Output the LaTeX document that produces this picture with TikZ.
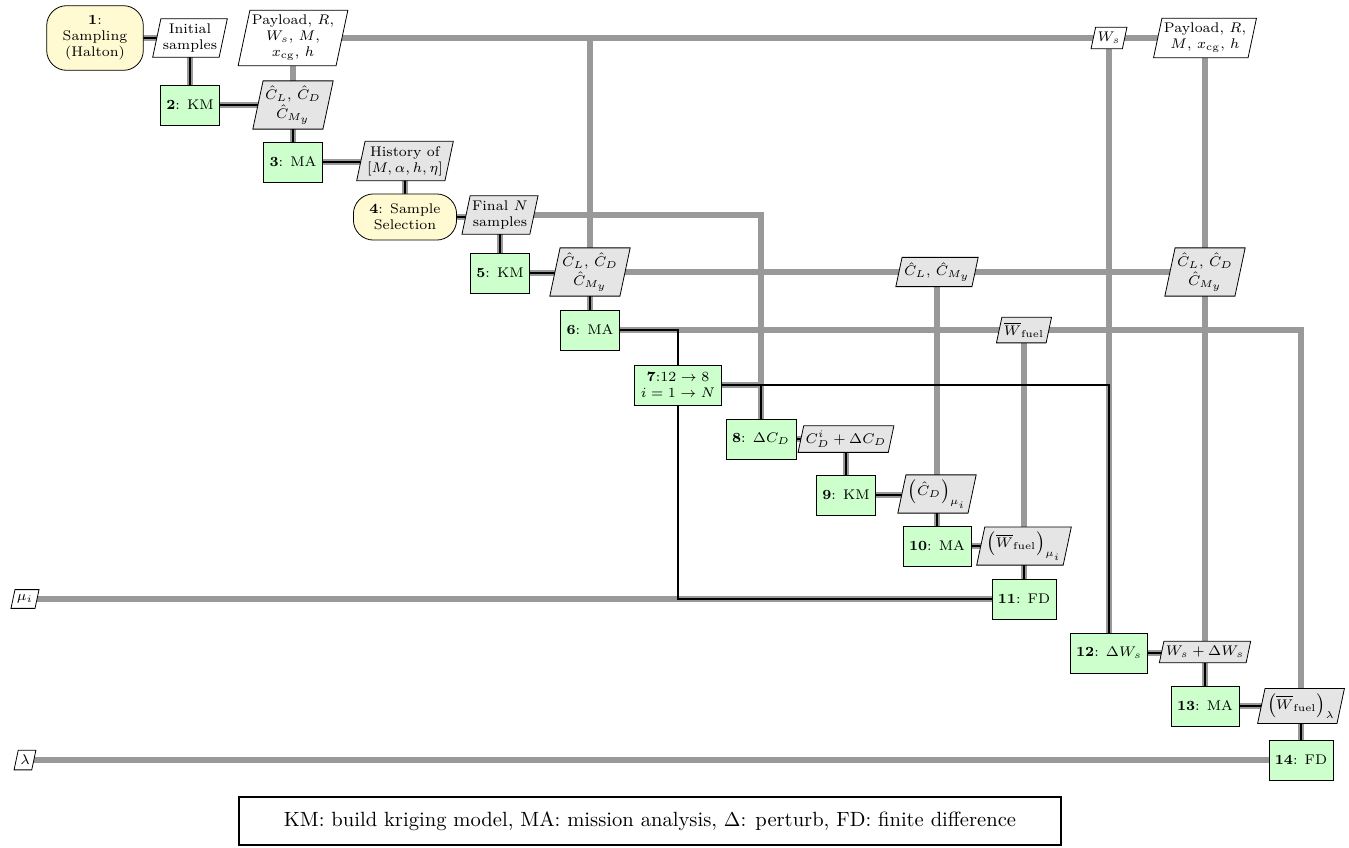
\documentclass[tikz,border=0pt]{standalone}
\usetikzlibrary{shapes.geometric}

\definecolor{FuncGreen}{rgb}{0.8,1,0.8}
\definecolor{DriverYellow}{rgb}{1,0.98,0.82}
\definecolor{DataGray}{rgb}{0.9,0.9,0.9}
\definecolor{LineGray}{rgb}{0.6,0.6,0.6}

\pgfdeclarelayer{bg}
\pgfsetlayers{bg,main}

\begin{document}
\begin{tikzpicture}[x=0.5pt,y=-0.5pt,
    func/.style={draw,fill=FuncGreen,font=\scriptsize,align=center,minimum height=20pt,inner xsep=3pt,inner ysep=3.5pt},
    driver/.style={draw,fill=DriverYellow,font=\scriptsize,align=center,rounded corners=10pt,inner xsep=8pt,inner ysep=5pt},
    dat/.style={draw,fill=DataGray,font=\scriptsize,align=center,trapezium,trapezium left angle=78,trapezium right angle=102,inner xsep=1pt,inner ysep=2.5pt},
    inp/.style={dat,fill=white},
    dataline/.style={LineGray,line width=3.3pt},
    procline/.style={black,line width=0.8pt}]
  \useasboundingbox (0,0) rectangle (1349,847);

  \node (f1) [driver] at (95,38) {\textbf{1}:\\Sampling\\(Halton)};
  \node (is) [inp] at (190,38) {Initial\\samples};
  \node (pay) [inp] at (293,38) {Payload, $R$,\\$W_s$, $M$,\\$x_{\mathrm{cg}}$, $h$};
  \node (ws) [inp] at (1109,38) {$W_s$};
  \node (payb) [inp] at (1205,38) {Payload, $R$,\\$M$, $x_{\mathrm{cg}}$, $h$};
  \node (f2) [func] at (190,105) {\textbf{2}: KM};
  \node (coef2) [dat] at (293,105) {$\hat{C}_L$, $\hat{C}_D$\\[1.5pt]$\hat{C}_{M_y}$};
  \node (f3) [func] at (293,162) {\textbf{3}: MA};
  \node (hist) [dat] at (405,161) {History of\\$[M,\alpha,h,\eta]$};
  \node (f4) [driver] at (405,217) {\textbf{4}: Sample\\Selection};
  \node (fin) [dat] at (500,215) {Final $N$\\samples};
  \node (f5) [func] at (500,273) {\textbf{5}: KM};
  \node (coef5) [dat] at (590,272) {$\hat{C}_L$, $\hat{C}_D$\\[1.5pt]$\hat{C}_{M_y}$};
  \node (coefa) [dat] at (937,272) {$\hat{C}_L$, $\hat{C}_{M_y}$};
  \node (coefb) [dat] at (1205,272) {$\hat{C}_L$, $\hat{C}_D$\\[1.5pt]$\hat{C}_{M_y}$};
  \node (f6) [func] at (590,330) {\textbf{6}: MA};
  \node (wf) [dat] at (1024,330) {$\overline{W}_{\mathrm{fuel}}$};
  \node (f7) [func] at (678,385) {\textbf{7}:$12\rightarrow 8$\\$i=1\rightarrow N$};
  \node (f8) [func] at (761,439) {\textbf{8}: $\Delta C_D$};
  \node (cdp) [dat] at (846,439) {$C_D^i+\Delta C_D$};
  \node (f9) [func] at (846,495) {\textbf{9}: KM};
  \node (cdmu) [dat] at (937,494) {$\left(\hat{C}_D\right)_{\mu_i}$};
  \node (f10) [func] at (937,546) {\textbf{10}: MA};
  \node (wfmu) [dat] at (1024,546) {$\left(\overline{W}_{\mathrm{fuel}}\right)_{\mu_i}$};
  \node (f11) [func] at (1024,599) {\textbf{11}: FD};
  \node (mu) [inp] at (25,599) {$\mu_i$};
  \node (f12) [func] at (1109,653) {\textbf{12}: $\Delta W_s$};
  \node (wsp) [dat] at (1205,652) {$W_s+\Delta W_s$};
  \node (f13) [func] at (1205,706) {\textbf{13}: MA};
  \node (wfla) [dat] at (1301,706) {$\left(\overline{W}_{\mathrm{fuel}}\right)_{\lambda}$};
  \node (f14) [func] at (1301,760) {\textbf{14}: FD};
  \node (la) [inp] at (25,760) {$\lambda$};

  \node (key) [draw,line width=1pt,minimum width=411pt,minimum height=24pt,font=\fontsize{10.3}{12}\selectfont] at (650,821)
    {KM: build kriging model, MA: mission analysis, $\Delta$: perturb, FD: finite difference};

  \begin{pgfonlayer}{bg}
    % data
    \draw[dataline] (pay.center) -- (payb.center);
    \draw[dataline] (pay.center) -- (f3.center);
    \draw[dataline] (f6.center |- pay.center) -- (f6.center);
    \draw[dataline] (ws.center) -- (f12.center);
    \draw[dataline] (payb.center) -- (f13.center);
    \draw[dataline] (fin.center) -| (f8.center);
    \draw[dataline] (coef5.center) -- (coefb.center);
    \draw[dataline] (coefa.center) -- (f10.center);
    \draw[dataline] (f6.center) -| (wfla.center) -- (f14.center);
    \draw[dataline] (wf.center) -- (f11.center);
    \draw[dataline] (f7.center) -| (f8.center);
    \draw[dataline] (mu.center) -- (f11.center);
    \draw[dataline] (la.center) -- (f14.center);

    % process
    \foreach \st in {dataline,procline}{
      \draw[\st] (f1.center) -- (is.center) |- (f2.center) -| (coef2.center) |- (f3.center)
        -| (hist.center) |- (f4.center) -| (fin.center) |- (f5.center) -| (coef5.center) |- (f6.center);
      \draw[\st] (f8.center) -| (cdp.center) |- (f9.center) -| (cdmu.center) |- (f10.center)
        -| (wfmu.center) |- (f11.center);
      \draw[\st] (f12.center) -| (wsp.center) |- (f13.center) -| (wfla.center) |- (f14.center);
    }
    \draw[procline] (f6.center) -| (f7.center);
    \draw[procline] (f7.center) -| (f8.center);
    \draw[procline] (f7.center) -| (f12.center);
    \draw[procline] (f11.center) -| (f7.center);
  \end{pgfonlayer}
\end{tikzpicture}
\end{document}
